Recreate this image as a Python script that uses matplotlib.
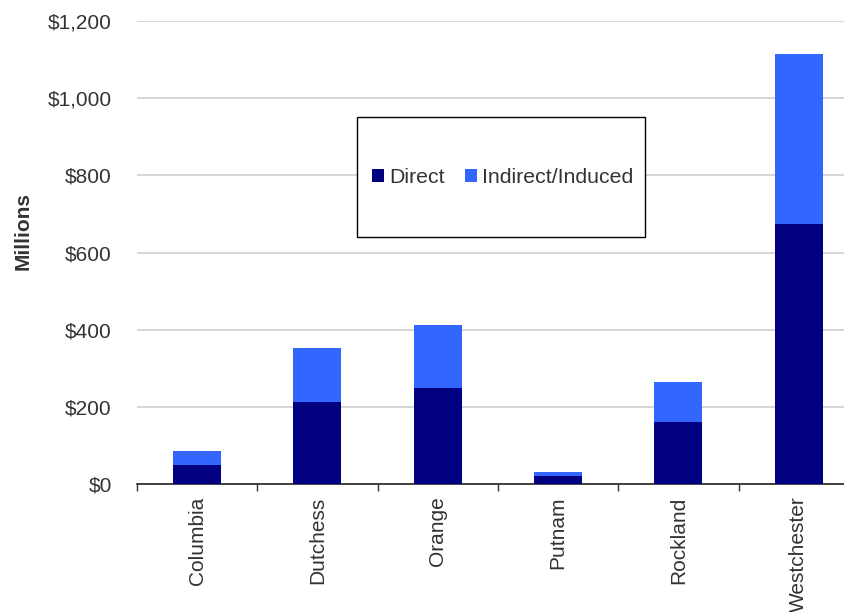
import matplotlib.pyplot as plt
from matplotlib.patches import Rectangle
import numpy as np

plt.rcParams['font.family'] = ['Liberation Sans', 'DejaVu Sans']

# Economic impact by county (millions of dollars)
counties = ['Columbia', 'Dutchess', 'Orange', 'Putnam', 'Rockland', 'Westchester']
direct = [49, 212, 249, 21, 160, 675]
indirect = [36, 140, 163, 10, 104, 440]

x = np.arange(len(counties))

fig = plt.figure(figsize=(8.45, 6.12), dpi=100)
ax = fig.add_axes([0.162, 0.209, 0.8545, 0.7565])

ax.bar(x, direct, width=0.4, color='#000080', label='Direct', zorder=3)
ax.bar(x, indirect, width=0.4, bottom=direct, color='#3366FF',
       label='Indirect/Induced', zorder=3)

ax.set_xlim(-0.5, len(counties) - 0.5)
ax.set_ylim(0, 1200)
ax.set_yticks(np.arange(0, 1201, 200))
ax.set_yticklabels(['${:,}'.format(v) for v in range(0, 1201, 200)],
                   fontsize=15, color='#333333')
ax.yaxis.grid(True, color='#d0d0d0', linewidth=1.2, zorder=0)
ax.tick_params(axis='y', length=0, pad=18)

# category labels between boundary ticks
ax.set_xticks(x)
ax.set_xticklabels(counties, rotation=90, fontsize=15, color='#333333')
ax.set_xticks(np.arange(-0.5, len(counties)), minor=True)
ax.tick_params(axis='x', which='major', length=0, pad=9)
ax.tick_params(axis='x', which='minor', length=5, color='#333333', width=1)

for s in ['top', 'right', 'left']:
    ax.spines[s].set_visible(False)
ax.spines['bottom'].set_color('#222222')
ax.spines['bottom'].set_linewidth(1.2)

ax.set_ylabel('Millions', fontsize=15, fontweight='bold', color='#333333',
              va='center')
ax.yaxis.set_label_coords(-0.158, 0.546)

# legend box drawn separately so it can be larger than the entries
ax.add_patch(Rectangle((0.305, 0.533), 0.399, 0.259, transform=ax.transAxes,
                       facecolor='white', edgecolor='black', linewidth=1.0,
                       zorder=4))
leg = ax.legend(loc='center', bbox_to_anchor=(0.507, 0.663), ncol=2,
                fontsize=15.3, frameon=False, handlelength=0.55,
                handleheight=0.55, handletextpad=0.25, columnspacing=0.95)
leg.set_zorder(5)
for t in leg.get_texts():
    t.set_color('#333333')

fig.savefig('out.png', dpi=100)
